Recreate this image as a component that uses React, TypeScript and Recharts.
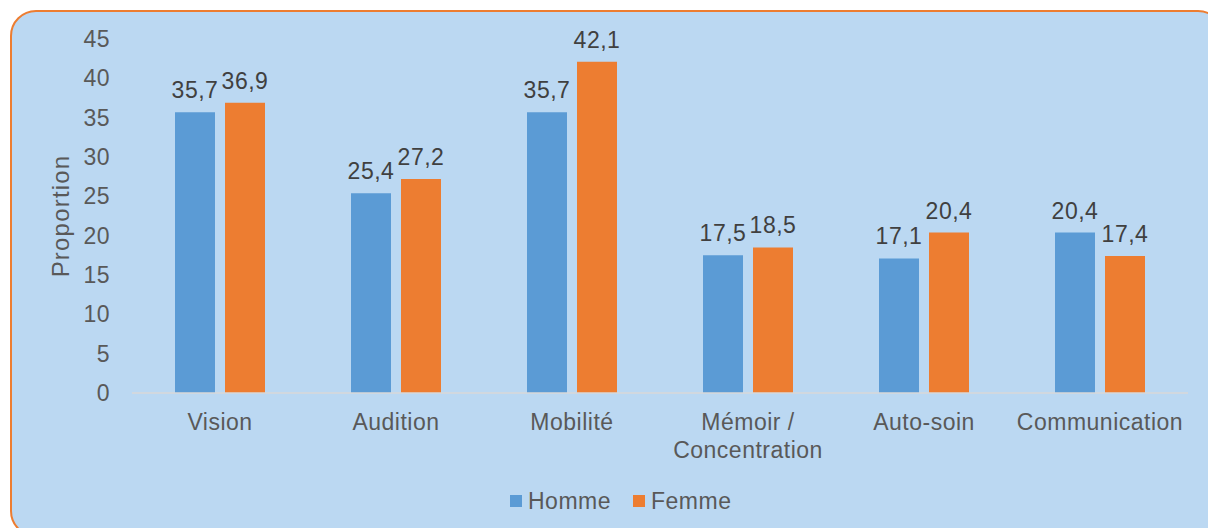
import { BarChart, Bar, XAxis, YAxis, LabelList } from "recharts";

const categories = ["Vision", "Audition", "Mobilité", "Mémoir / Concentration", "Auto-soin", "Communication"];
const homme = [35.7, 25.4, 35.7, 17.5, 17.1, 20.4];
const femme = [36.9, 27.2, 42.1, 18.5, 20.4, 17.4];
const yTicks = [0, 5, 10, 15, 20, 25, 30, 35, 40, 45];

const data = categories.map((name, i) => ({ name, homme: homme[i], femme: femme[i] }));

const FONT = "'Liberation Sans', Arial, sans-serif";
const BLUE = "#5B9BD5";
const ORANGE = "#ED7D31";
const FS = 23;
const LS = 0.5;

const fmt = (v: any) => String(v).replace(".", ",");

const CategoryTick = (props: any) => {
  const { x, y, payload } = props;
  const lines = String(payload.value).split(/(?<=\/)\s/);
  return (
    <text x={x} y={y} textAnchor="middle" fill="#595959" fontSize={FS} fontFamily={FONT} letterSpacing={LS}>
      {lines.map((l, i) => (
        <tspan key={i} x={x} dy={i === 0 ? 37 : 28}>
          {l}
        </tspan>
      ))}
    </text>
  );
};

const LegendBox = () => (
  <div
    style={{
      position: "absolute",
      left: 510,
      top: 488,
      display: "flex",
      alignItems: "center",
      fontFamily: FONT,
      fontSize: FS,
      letterSpacing: LS,
      color: "#595959",
      lineHeight: "26px",
    }}
  >
    <span style={{ width: 12, height: 12, background: BLUE, display: "inline-block", marginRight: 6 }} />
    <span style={{ marginRight: 22 }}>Homme</span>
    <span style={{ width: 12, height: 12, background: ORANGE, display: "inline-block", marginRight: 6 }} />
    <span>Femme</span>
  </div>
);

export default function App() {
  return (
    <div style={{ position: "absolute", left: 0, top: 0, width: 1208, height: 528, overflow: "hidden", background: "#fff" }}>
      <div
        style={{
          position: "absolute",
          left: 10,
          top: 10,
          width: 1210,
          height: 523,
          border: `2px solid ${ORANGE}`,
          borderRadius: 26,
          background: "#BBD8F2",
        }}
      />
      <div style={{ position: "absolute", left: 0, top: 0 }}>
        <BarChart
          width={1208}
          height={528}
          data={data}
          margin={{ top: 39, right: 20, left: 0, bottom: 35 }}
          barSize={40}
          barGap={10}
        >
          <XAxis
            dataKey="name"
            interval={0}
            tickLine={false}
            tickSize={0}
            tickMargin={0}
            height={100}
            axisLine={{ stroke: "#D9D9D9", strokeWidth: 1.5 }}
            tick={<CategoryTick />}
          />
          <YAxis
            width={132}
            domain={[0, 45]}
            ticks={yTicks}
            axisLine={false}
            tickLine={false}
            tickSize={0}
            tickMargin={22}
            tick={{ fill: "#595959", fontSize: FS, fontFamily: FONT, letterSpacing: LS }}
            label={{
              value: "Proportion",
              angle: -90,
              position: "insideLeft",
              offset: 60,
              style: { fill: "#595959", fontSize: 24, fontFamily: FONT, letterSpacing: 1.2, textAnchor: "middle" },
            }}
          />
          <Bar dataKey="homme" name="Homme" fill={BLUE} isAnimationActive={false}>
            <LabelList dataKey="homme" position="top" offset={14} formatter={fmt} fill="#404040" fontSize={FS} fontFamily={FONT} letterSpacing={LS} />
          </Bar>
          <Bar dataKey="femme" name="Femme" fill={ORANGE} isAnimationActive={false}>
            <LabelList dataKey="femme" position="top" offset={14} formatter={fmt} fill="#404040" fontSize={FS} fontFamily={FONT} letterSpacing={LS} />
          </Bar>
        </BarChart>
      </div>
      <LegendBox />
    </div>
  );
}
